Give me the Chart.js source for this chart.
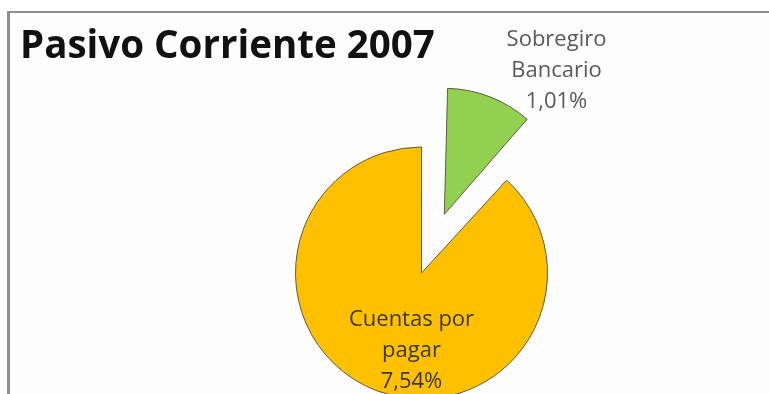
<!DOCTYPE html>
<html lang="es">
<head>
<meta charset="utf-8">
<title>Pasivo Corriente 2007</title>
<script src="https://cdn.jsdelivr.net/npm/chart.js@4.4.0/dist/chart.umd.min.js"></script>
<style>
  html, body { margin: 0; padding: 0; background: #fff; }
  #wrap { position: relative; width: 769px; height: 394px; overflow: hidden; }
  /* chart frame: only the top and left edges are visible */
  #frame {
    position: absolute; left: 7px; top: 11px; right: -10px; bottom: -10px;
    border-left: 3px solid #8e8e8e; border-top: 2px solid #8e8e8e;
    background: #fdfdfd;
  }
  #chart { position: absolute; left: 0; top: 0; }
</style>
</head>
<body>
<div id="wrap">
  <div id="frame"></div>
  <canvas id="chart" width="769" height="394"></canvas>
</div>
<script>
/* ---------- DATA ---------- */

const chartTitle = 'Pasivo Corriente 2007';
const categories = [['Sobregiro', 'Bancario'], ['Cuentas por', 'pagar']];
const values = [1.01, 7.54];

/* ---------- STYLE ---------- */

const sliceColors = ['#92d050', '#ffc000'];
const labelColors = ['#595959', '#3b3820'];
const sliceOffset = [252, 0];            // first slice pulled out of the pie
const PIE_RADIUS = 126;

function formatPct(v) {
  return v.toFixed(2).replace('.', ',') + '%';
}

/* ---------- PLUGINS ---------- */

// ArcElement grows narrow exploded slices by offset/4 * (1 - sin(circumference));
// take that back out so every slice keeps the same radius
const evenRadius = {
  id: 'evenRadius',
  afterDatasetUpdate(chart, args) {
    args.meta.data.forEach((arc, i) => {
      const off = (sliceOffset[i] || 0) / 4;
      const fix = 1 - Math.sin(Math.min(Math.PI, arc.circumference));
      arc.outerRadius -= off * fix;
    });
  }
};

// title in the top-left corner
const cornerTitle = {
  id: 'cornerTitle',
  afterDraw(chart) {
    const ctx = chart.ctx;
    ctx.save();
    ctx.font = 'bold 38.5px "Open Sans"';
    ctx.fillStyle = '#111';
    ctx.textAlign = 'left';
    ctx.textBaseline = 'alphabetic';
    ctx.fillText(chartTitle, 20, 58);
    ctx.restore();
  }
};

// category name + value for each slice, placed relative to the pie centre
const sliceLabels = {
  id: 'sliceLabels',
  afterDatasetsDraw(chart, args, opts) {
    const ctx = chart.ctx;
    const meta = chart.getDatasetMeta(0);
    ctx.save();
    ctx.font = opts.font;
    ctx.textAlign = 'center';
    ctx.textBaseline = 'middle';
    meta.data.forEach((arc, i) => {
      const lines = [...categories[i], formatPct(values[i])];
      const [dx, dy] = opts.anchors[i];
      const top = arc.y + dy - (lines.length - 1) / 2 * opts.lineHeight;
      ctx.fillStyle = labelColors[i];
      lines.forEach((t, j) => ctx.fillText(t, arc.x + dx, top + j * opts.lineHeight));
    });
    ctx.restore();
  }
};

/* ---------- CHART ---------- */

new Chart(document.getElementById('chart'), {
  type: 'pie',
  data: {
    labels: categories,
    datasets: [{
      data: values,
      backgroundColor: sliceColors,
      borderColor: '#5e5a44',
      borderWidth: 1,
      offset: sliceOffset,
      clip: false
    }]
  },
  options: {
    responsive: false,
    animation: false,
    radius: PIE_RADIUS,
    cutout: '0%',
    layout: { padding: { left: 74, top: 152 } },
    plugins: {
      legend: { display: false },
      tooltip: { enabled: false },
      sliceLabels: {
        font: '22px "Open Sans"',
        lineHeight: 31,
        anchors: [[135, -202], [-10, 78]]
      }
    }
  },
  plugins: [evenRadius, sliceLabels, cornerTitle]
});
</script>
</body>
</html>
